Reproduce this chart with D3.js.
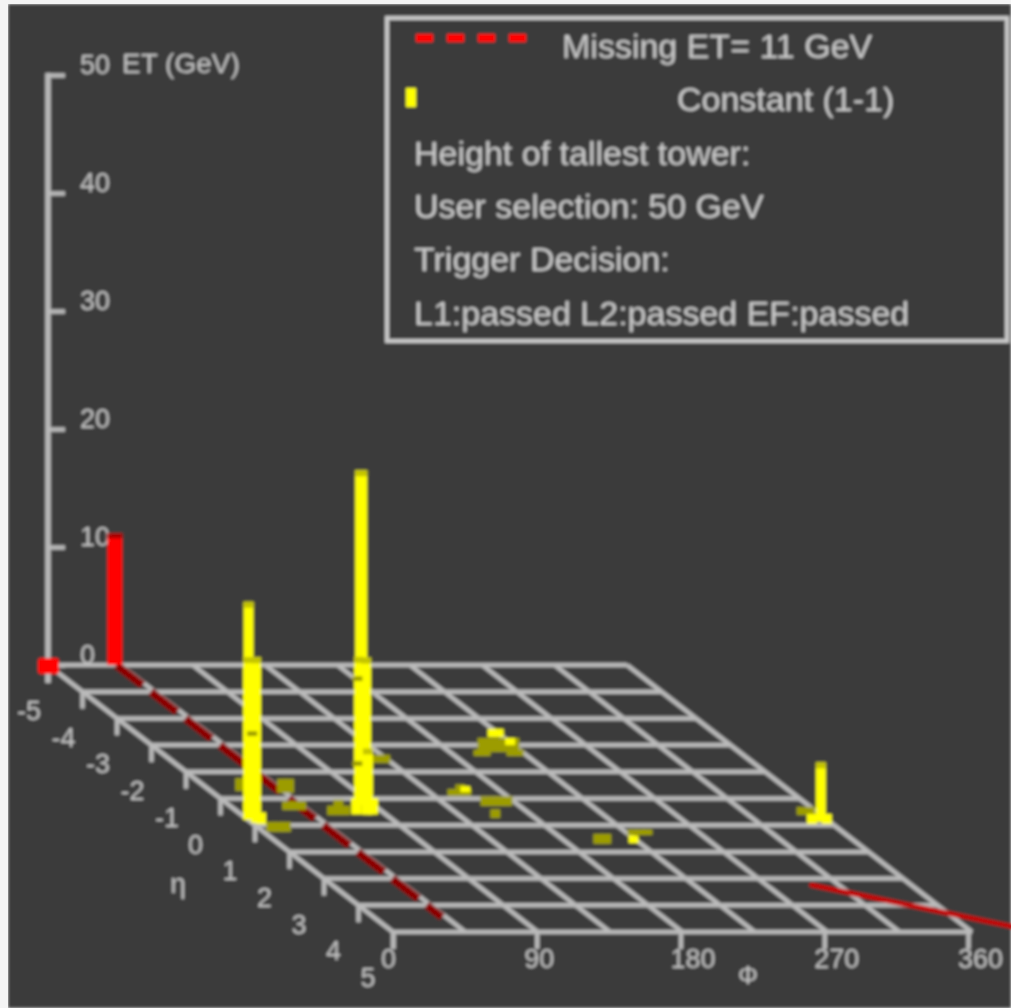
<!DOCTYPE html>
<html><head><meta charset="utf-8">
<script src="https://cdn.jsdelivr.net/npm/d3@7"></script>
<style>html,body{margin:0;padding:0;background:#fff;overflow:hidden}svg{display:block}text{font-family:"Liberation Sans",Arial,sans-serif}</style>
</head><body><div id="chart"></div>
<script>
const phiTicks=[0,90,180,270,360];
const phiGrid=[0,45,90,135,180,225,270,315,360];
const etaTicks=[-5,-4,-3,-2,-1,0,1,2,3,4,5];
const etTicks=[0,10,20,30,40,50];
const missingET=11;
const missingPhi=42.5;
const missingDashEnd=4.44;
const arrowPhi=[298,390];
const arrowEta=[3.24,4.81];
const legendLines=["Missing ET= 11 GeV","Constant (1-1)","Height of tallest tower:","User selection: 50 GeV","Trigger Decision:","L1:passed L2:passed EF:passed"];
// [phi, eta, ET]
const dimCells=[
[200.2,-1.74,1.2],[205.2,-1.74,1.2],[210.1,-1.74,1.2],[215.1,-1.74,1.2],[220.1,-1.74,1.2],
[194.5,-1.59,.55],[199,-1.59,.55],[215,-1.59,.55],[219.4,-1.59,.55],
[146.1,-.09,.6],[151,-.09,1],[154.8,-.09,.6],
[158.7,.28,.8],[163.6,.28,.8],[168.6,.28,.8],[172.4,.28,.8],[155.2,.73,.75],
[42.8,-.21,1.2],[47.1,-.21,1.2],
[32.2,.43,.75],[37.2,.43,.75],[40.9,.43,.75],
[4.6,1.25,.85],[9.6,1.25,.85],[13.9,1.25,.85],
[18.2,-.28,1.1],
[56.1,.62,.8],[60,.62,1.3],[64.2,.62,.8],
[125.4,-1.33,.7],[131,-1.33,.7],
[198.4,1.7,.85],[203.4,1.7,.85],
[226.8,1.37,.5],[231.8,1.37,.5],[236.1,1.37,.5],
[348,.62,.7],[353,.62,.7],[352,.88,.8]];
const tallCells=[
[24.3,-.32,15.95],[0,.8,13.8],[2.4,.92,14.05],
[93.7,-.32,27.1],[95,-.32,27.1],[81,.24,12.55],[77.7,.6,13.3],[78.8,.6,5.6],
[354.4,.88,5.05]];
const lowCells=[[4.6,.96,1],[71.5,.6,1.4],[82,.6,1.4],[347.2,.955,.85],[356.5,.955,.85],
[218.5,-2.3,.7],[222.3,-2.3,.7],[223,-2,.6],[157.4,-.24,.5],[221,1.67,.65]];
const spotCells=[[69.9,-2.34,.4],[111.2,-1.22,.4],[179.5,-4.4,.4]];

const W=1011,H=1008;
const svg=d3.select("#chart").append("svg").attr("width",W).attr("height",H);
const blur=svg.append("defs").append("filter").attr("id","soft").attr("x",0).attr("y",0).attr("width",1).attr("height",1);
blur.append("feGaussianBlur").attr("stdDeviation",1.35);
svg.append("rect").attr("width",W).attr("height",H).attr("fill","#f4f4f4");
const g=svg.append("g");
g.append("rect").attr("x",8).attr("y",4).attr("width",W-8).attr("height",H-4).attr("fill","#3a3a3a");

const LINE="#bababa",TXT="#c4c4c4",DIM="#9c9c00",BRIGHT="#ffff00";
const X0=48,Y0=665;
const px=d3.scaleLinear().domain([0,360]).range([0,579]);
const ex=d3.scaleLinear().domain([-5,5]).range([0,345]);
const ey=d3.scaleLinear().domain([-5,5]).range([0,267]);
const zy=d3.scaleLinear().domain([0,50]).range([0,-590]);
const pX=(phi,eta)=>X0+px(phi)+ex(eta), pY=(eta,et=0)=>Y0+ey(eta)+zy(et);

// grid
const grid=g.append("g").attr("stroke",LINE).attr("stroke-width",4.5).attr("fill","none");
grid.selectAll("line.e").data(etaTicks).join("line").attr("class","e")
 .attr("x1",d=>pX(0,d)).attr("x2",d=>pX(360,d)).attr("y1",d=>pY(d)).attr("y2",d=>pY(d));
grid.selectAll("line.p").data(phiGrid).join("line").attr("class","p")
 .attr("x1",d=>pX(d,-5)).attr("x2",d=>pX(d,5)).attr("y1",pY(-5)).attr("y2",pY(5));
grid.selectAll("line.t").data(etaTicks).join("line").attr("class","t")
 .attr("x1",d=>pX(0,d)).attr("x2",d=>pX(0,d)).attr("y1",d=>pY(d)).attr("y2",d=>pY(d)+17);
g.append("g").selectAll("text").data(etaTicks).join("text")
 .attr("x",d=>pX(0,d)-(d<0?19:25)).attr("y",d=>pY(d)+55).attr("text-anchor","middle")
 .attr("font-size",27).attr("fill",TXT).text(d=>d);
g.append("text").attr("x",178).attr("y",893).attr("text-anchor","middle").attr("font-size",28).attr("fill",TXT).text("η");
g.append("text").attr("x",748).attr("y",984).attr("text-anchor","middle").attr("font-size",25).attr("fill",TXT).text("Φ");

// phi axis
const phiAxis=d3.axisBottom(d3.scaleLinear().domain([0,360]).range([0,575])).tickValues(phiTicks).tickSize(17).tickFormat(d3.format("d"));
const pa=g.append("g").attr("transform",`translate(393,${Y0+267})`).call(phiAxis);
pa.select(".domain").remove();
pa.selectAll("line").attr("stroke",LINE).attr("stroke-width",4.5);
pa.selectAll("text").attr("font-size",27).attr("fill",TXT).attr("dy",0).attr("y",36).attr("x",d=>d==0?-5:d==90?2:12);

// ET axis
const zAxis=d3.axisRight(d3.scaleLinear().domain([0,50]).range([Y0,Y0-590])).tickValues(etTicks).tickSize(17).tickFormat(d3.format("d"));
const za=g.append("g").attr("transform",`translate(${X0},0)`).call(zAxis);
za.select(".domain").remove();
za.selectAll("line").attr("stroke",LINE).attr("stroke-width",4.5);
za.selectAll("text").attr("font-size",27).attr("fill",TXT).attr("dy",0).attr("y",-2).attr("x",32);
g.append("line").attr("x1",X0).attr("x2",X0).attr("y1",Y0-592).attr("y2",Y0+18).attr("stroke",LINE).attr("stroke-width",5.5);
g.append("text").attr("x",122).attr("y",Y0-590-2).attr("font-size",28).attr("fill",TXT).text("ET (GeV)");

// missing ET
g.append("line").attr("x1",pX(missingPhi,-5)).attr("y1",pY(-5)).attr("x2",pX(missingPhi,missingDashEnd)).attr("y2",pY(missingDashEnd))
 .attr("stroke","#8b0000").attr("stroke-width",8).attr("stroke-dasharray","33 10.6");
g.append("rect").attr("x",pX(missingPhi,-5)-9).attr("width",15).attr("y",pY(-5,missingET)-2).attr("height",-zy(missingET)+2).attr("fill","#ff0000");
g.append("rect").attr("x",pX(missingPhi,-5)-9).attr("width",15).attr("y",pY(-5,missingET)-2).attr("height",5).attr("fill","#a80000");
g.append("rect").attr("x",X0-10).attr("y",Y0-7).attr("width",21).attr("height",16).attr("rx",3).attr("fill","#ff0000");

// towers
const cell=(data,fill)=>g.append("g").selectAll("rect").data(data).join("rect")
 .attr("x",d=>pX(d[0],d[1])-5).attr("width",10)
 .attr("y",d=>pY(d[1],d[2])).attr("height",d=>-zy(d[2])).attr("fill",fill);
cell(dimCells,DIM);
cell(tallCells,BRIGHT);
cell(lowCells,BRIGHT);
g.append("g").selectAll("rect").data(tallCells).join("rect")
 .attr("x",d=>pX(d[0],d[1])-5).attr("width",10)
 .attr("y",d=>pY(d[1],d[2])).attr("height",6).attr("fill","#c4c400");
cell(spotCells,DIM);

// red line overlay
g.append("line").attr("x1",pX(arrowPhi[0],arrowEta[0])).attr("y1",pY(arrowEta[0]))
 .attr("x2",pX(arrowPhi[1],arrowEta[1])).attr("y2",pY(arrowEta[1]))
 .attr("stroke","#c40000").attr("stroke-width",5).attr("stroke-linecap","round");

// legend
const lg=g.append("g");
lg.append("rect").attr("x",387).attr("y",18).attr("width",620).attr("height",323).attr("fill","#3a3a3a").attr("stroke","#cacaca").attr("stroke-width",4);
lg.append("line").attr("x1",416).attr("x2",528).attr("y1",38).attr("y2",38).attr("stroke","#ff0000").attr("stroke-width",8).attr("stroke-dasharray","17 14");
lg.append("rect").attr("x",406).attr("y",88).attr("width",10).attr("height",19).attr("fill","#ffff00");
const lx=[562,677,414,414,414,414], ly=[58,111,165,218,271,325];
lg.selectAll("text").data(legendLines).join("text").attr("x",(d,i)=>lx[i]).attr("y",(d,i)=>ly[i])
 .attr("font-size",34).attr("fill","#cccccc").text(d=>d);
g.attr("filter","url(#soft)");
</script></body></html>
